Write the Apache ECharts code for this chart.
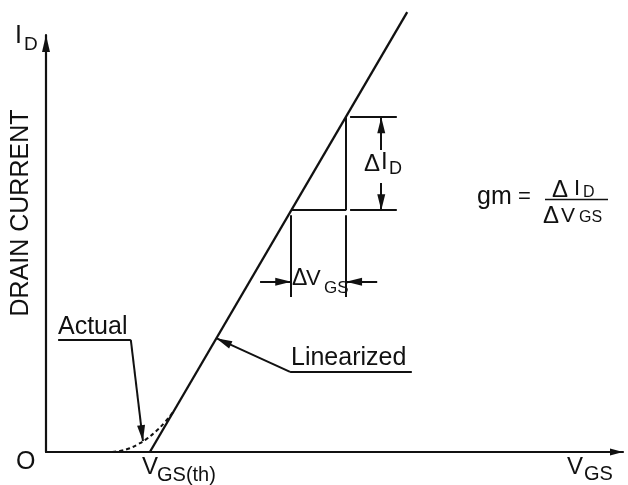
<!DOCTYPE html>
<html>
<head>
<meta charset="UTF-8">
<title>Transconductance gm</title>
<style>
	html, body { margin: 0; padding: 0; background: #fff; }
	#main { width: 628px; height: 485px; }
</style>
</head>
<body>
<div id="main"></div>
<script src="https://cdn.jsdelivr.net/npm/echarts@6/dist/echarts.min.js"></script>
<script type="text/javascript">
	// axis units: VGS and ID in % of full axis length
	var linVgs = [18.0, 62.6];          // linearized line
	var linId = [0, 105.5];
	var actVgs = [11.5, 13, 14.5, 16, 17.5, 19, 20.5, 22];   // actual curve near threshold
	var actId = [0, 0.3, 0.9, 1.9, 3.2, 4.9, 7.0, 9.5];

	// plain annotation segments [from, to]
	var plainLines = [
		[[42.5, 58.0], [52.0, 58.0]],   // triangle base
		[[52.0, 58.0], [52.0, 80.3]],   // triangle side
		[[52.7, 80.3], [60.8, 80.3]],   // dID extension top
		[[52.7, 58.0], [60.8, 58.0]],   // dID extension bottom
		[[42.5, 56.8], [42.5, 37.2]],   // dVGS extension left
		[[52.0, 56.8], [52.0, 37.2]],   // dVGS extension right
		[[2.1, 26.9], [14.7, 26.9]],    // Actual underline
		[[63.4, 19.2], [42.3, 19.2]]    // Linearized underline
	];
	// arrow segments, arrow head at "to"
	var arrowLines = [
		[[58.1, 72.4], [58.1, 80.3]],
		[[58.1, 64.5], [58.1, 58.0]],
		[[37.1, 40.8], [42.5, 40.8]],
		[[57.4, 40.8], [52.0, 40.8]],
		[[14.7, 26.9], [16.8, 2.6]],
		[[42.3, 19.2], [29.5, 27.3]]
	];

	var ink = '#111';
	var ff = '"Liberation Sans", Arial, sans-serif';

	var lin = [], act = [], mlData = [];
	for (var i = 0; i < linVgs.length; i++) lin.push([linVgs[i], linId[i]]);
	for (var i = 0; i < actVgs.length; i++) act.push([actVgs[i], actId[i]]);
	plainLines.forEach(function (s) {
		mlData.push([{ coord: s[0] }, { coord: s[1] }]);
	});
	arrowLines.forEach(function (s) {
		mlData.push([{ coord: s[0] }, { coord: s[1], symbol: 'triangle', symbolSize: [8, 16], symbolOffset: [0, 8] }]);
	});

	function txt(str, x, y, size, opt) {
		opt = opt || {};
		return {
			type: 'text', x: x, y: y, rotation: opt.rot || 0, silent: true,
			style: {
				text: str, fill: ink, fontSize: size, fontFamily: opt.family || ff,
				align: opt.align || 'left', verticalAlign: 'middle',
				textAlign: opt.align || 'left', textVerticalAlign: 'middle'
			}
		};
	}

	var chart = echarts.init(document.getElementById('main'));
	var option = {
		animation: false,
		backgroundColor: '#fff',
		grid: { left: 46, right: 5, top: 35, bottom: 33 },
		xAxis: {
			type: 'value', min: 0, max: 100,
			axisLine: { lineStyle: { color: ink, width: 2.2 }, symbol: ['none', 'triangle'], symbolSize: [7, 13], symbolOffset: [0, -6.5] },
			axisTick: { show: false }, axisLabel: { show: false }, splitLine: { show: false }
		},
		yAxis: {
			type: 'value', min: 0, max: 100,
			axisLine: { show: true, lineStyle: { color: ink, width: 2.2 }, symbol: ['none', 'triangle'], symbolSize: [8, 17], symbolOffset: [0, -8.5] },
			axisTick: { show: false }, axisLabel: { show: false }, splitLine: { show: false }
		},
		series: [
			{
				type: 'line', data: lin, symbol: 'none', clip: false, silent: true,
				lineStyle: { color: ink, width: 2.3 }
			},
			{
				type: 'line', data: act, symbol: 'none', smooth: true, silent: true,
				lineStyle: { color: ink, width: 2, type: [4, 3] }
			},
			{
				type: 'line', data: [], silent: true,
				markLine: {
					silent: true, animation: false,
					symbol: ['none', 'none'],
					label: { show: false },
					emphasis: { disabled: true },
					lineStyle: { color: ink, width: 2, type: 'solid' },
					data: mlData
				}
			}
		],
		graphic: [
			txt('I', 15, 36, 25),
			txt('D', 24, 45, 19),
			txt('DRAIN CURRENT', 21, 213, 25, { align: 'center', rot: Math.PI / 2 }),
			txt('O', 16, 462, 25),
			txt('V', 142, 467, 24),
			txt('GS(th)', 157, 475, 20),
			txt('V', 567, 467, 24),
			txt('GS', 584, 474, 20),
			txt('Actual', 58, 327, 25),
			txt('Linearized', 291, 358, 25),
			txt('\u0394', 364, 164, 24),
			txt('I', 381, 162, 24),
			txt('D', 389, 169, 18),
			txt('\u0394', 292, 279, 23),
			txt('V', 306, 279, 22),
			txt('GS', 324, 288, 17),
			txt('gm', 477, 197, 25),
			txt('=', 518, 197, 22),
			txt('\u0394', 552, 190, 24),
			txt('I', 574, 189, 22),
			txt('D', 583, 193, 16),
			txt('\u0394', 543, 216, 24),
			txt('V', 561, 216, 21),
			txt('GS', 579, 218, 16),
			{
				type: 'line', silent: true,
				shape: { x1: 545, y1: 199.5, x2: 608, y2: 199.5 },
				style: { stroke: ink, lineWidth: 1.5 }
			}
		]
	};
	chart.setOption(option);
</script>
</body>
</html>
